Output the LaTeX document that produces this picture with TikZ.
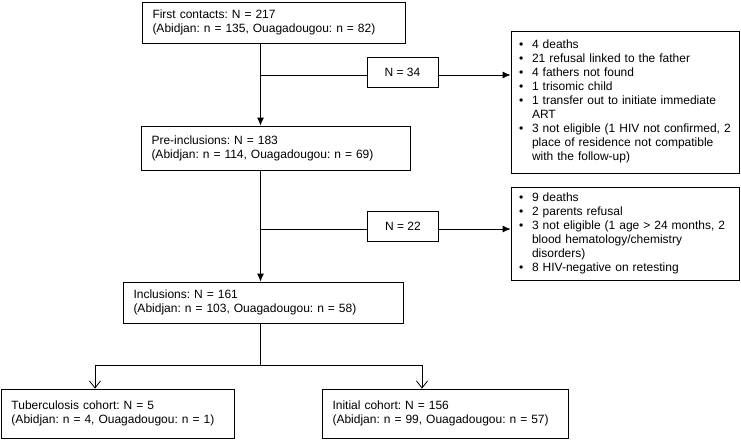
\documentclass[tikz,border=0pt]{standalone}
\usepackage{fontspec}
\setmainfont{Liberation Sans}
\frenchspacing
\usetikzlibrary{arrows.meta, positioning}
\tikzset{>={Latex[length=8pt,width=7pt]}}
\tikzset{
  flowbox/.style={draw, line width=0.8pt, align=left, inner xsep=10.5pt, inner ysep=0pt,
    font=\fontsize{12}{14}\selectfont},
  countbox/.style={draw, line width=0.8pt, align=center, inner sep=0pt,
    minimum width=71pt, minimum height=30pt, font=\fontsize{12}{14}\selectfont},
  listbox/.style={draw, line width=0.8pt, align=left, inner xsep=8pt, inner ysep=0pt,
    font=\fontsize{12}{14}\selectfont},
  link/.style={line width=0.8pt},
  barb/.style={line width=0.8pt, -{Straight Barb[length=7pt,width=11pt]}}
}
\newcommand{\blt}{\textbullet}
\begin{document}
\begin{tikzpicture}[x=1pt, y=-1pt]
\useasboundingbox (0,0) rectangle (741,440);
% main column
\node[flowbox, minimum width=263pt, minimum height=41pt, text width=242pt] (first) at (273.5,22.5)
  {First contacts: N = 217\\(Abidjan: n = 135, Ouagadougou: n = 82)};
\node[flowbox, minimum width=269pt, minimum height=44pt, text width=248pt] (pre) at (275.5,148)
  {Pre-inclusions: N = 183\\(Abidjan: n = 114, Ouagadougou: n = 69)};
\node[flowbox, minimum width=280pt, minimum height=41pt, text width=259pt] (incl) at (263,302.5)
  {Inclusions: N = 161\\(Abidjan: n = 103, Ouagadougou: n = 58)};
% exclusions
\node[countbox] (n34) at (402.5,72) {N = 34};
\node[countbox] (n22) at (403,226) {N = 22};
\node[listbox, minimum width=228pt, minimum height=142pt, text width=212pt] (r1) at (625,102)
  {\begin{tabular}{@{}p{13pt}@{}l@{}}
   \blt & 4 deaths\\
   \blt & 21 refusal linked to the father\\
   \blt & 4 fathers not found\\
   \blt & 1 trisomic child\\
   \blt & 1 transfer out to initiate immediate\\
        & ART\\
   \blt & 3 not eligible (1 HIV not confirmed, 2\\
        & place of residence not compatible\\
        & with the follow-up)
   \end{tabular}};
\node[listbox, minimum width=228pt, minimum height=93pt, text width=212pt] (r2) at (625,233.5)
  {\begin{tabular}{@{}p{13pt}@{}l@{}}
   \blt & 9 deaths\\
   \blt & 2 parents refusal\\
   \blt & 3 not eligible (1 age > 24 months, 2\\
        & blood hematology/chemistry\\
        & disorders)\\
   \blt & 8 HIV-negative on retesting
   \end{tabular}};
% cohorts
\node[flowbox, minimum width=233pt, minimum height=49pt, text width=212pt] (tb) at (117.5,413.5)
  {Tuberculosis cohort: N = 5\\(Abidjan: n = 4, Ouagadougou: n = 1)};
\node[flowbox, minimum width=246pt, minimum height=49pt, text width=225pt] (init) at (445,413.5)
  {Initial cohort: N = 156\\(Abidjan: n = 99, Ouagadougou: n = 57)};
% connectors
\coordinate (b1) at (260.5,75);
\coordinate (b2) at (260.5,229);
\coordinate (split) at (260.5,365);
\coordinate (lt) at (95,365);
\coordinate (rt) at (422,365);
\draw[link, ->] (first.south -| b1) -- (pre.north -| b1);
\draw[link] (b1) -- (b1 -| n34.west);
\draw[link, ->] (n34.east |- b1) -- (b1 -| r1.west);
\draw[link, ->] (pre.south -| b2) -- (incl.north -| b2);
\draw[link] (b2) -- (b2 -| n22.west);
\draw[link, ->] (n22.east |- b2) -- (b2 -| r2.west);
\draw[link] (incl.south -| split) -- (split);
\draw[barb] (split) -- (lt) -- (lt |- tb.north);
\draw[barb] (split) -- (rt) -- (rt |- init.north);
\end{tikzpicture}
\end{document}
